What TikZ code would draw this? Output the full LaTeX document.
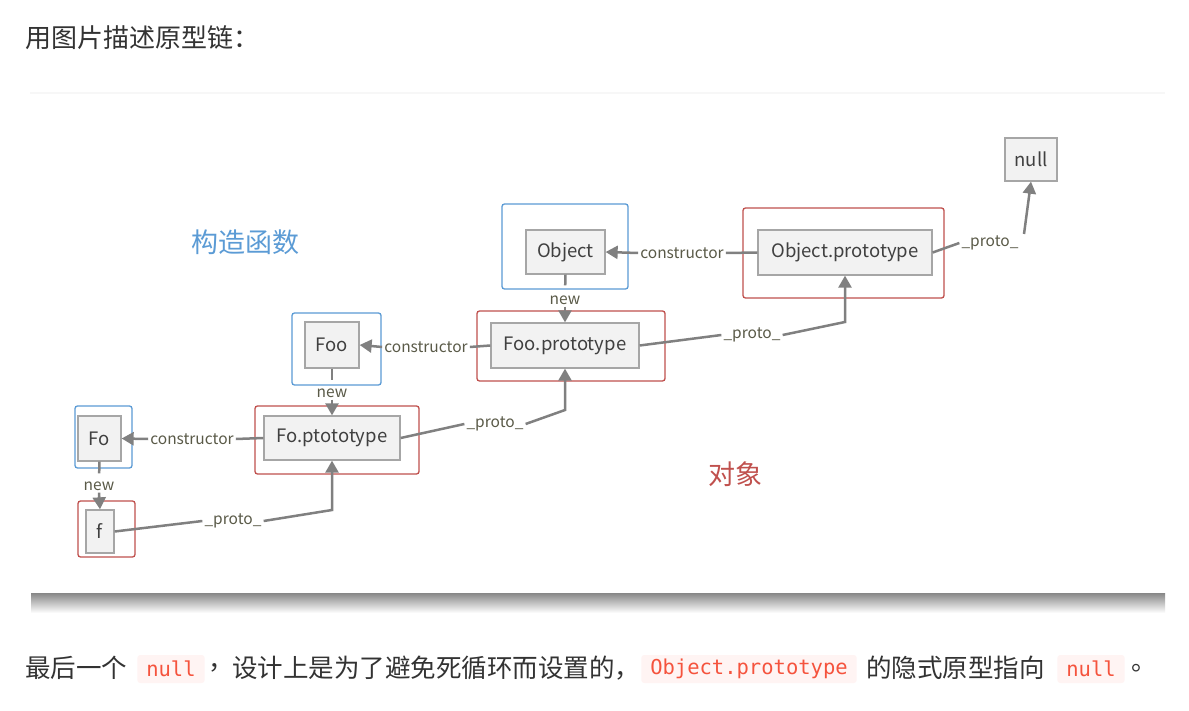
\documentclass[tikz,border=0pt]{standalone}
\usepackage{fontspec}
\setmainfont{Noto Sans CJK SC}
\newfontfamily\codefont{DejaVu Sans Mono}
\usetikzlibrary{arrows.meta}
\definecolor{bxblue}{HTML}{5B9BD5}
\definecolor{bxred}{HTML}{C0504D}
\definecolor{ln}{HTML}{808080}
\definecolor{innerf}{HTML}{F2F2F2}
\definecolor{innerb}{HTML}{A6A6A6}
\definecolor{lbl}{HTML}{5A5A48}
\definecolor{codered}{HTML}{F5533D}
\definecolor{codebg}{HTML}{FFF4F3}
\definecolor{txt}{HTML}{333333}
\definecolor{ttblue}{HTML}{5B9BD5}
\definecolor{ttred}{HTML}{C0504D}
\begin{document}
\begin{tikzpicture}[x=1pt,y=-1pt,
 inbox/.style={draw=innerb, fill=innerf, line width=1.3pt, inner sep=0pt, font=\fontsize{18.5}{20}\selectfont, text=black!75},
 bluebox/.style={draw=bxblue, line width=1.3pt, rounded corners=2.5pt, inner sep=0pt},
 redbox/.style={draw=bxred, line width=1.3pt, rounded corners=2.5pt, inner sep=0pt},
 lab/.style={font=\fontsize{15.5}{17}\selectfont, text=lbl, inner sep=2pt},
 conn/.style={draw=ln, line width=2.5pt},
 arr/.style={conn, -{Triangle[length=12pt,width=13pt]}},
 code/.style={fill=codebg, rounded corners=3pt, text=codered, font=\codefont\fontsize{20.5}{22}\selectfont, inner xsep=9pt, inner ysep=0pt, minimum height=28pt},
 para/.style={font=\fontsize{25.5}{28}\selectfont, text=txt, inner sep=0pt, anchor=west}
]
\useasboundingbox (0,0) rectangle (1189,711);
\fill[white] (0,0) rectangle (1189,711);
% panel top line and shadow
\draw[black!3, line width=1.5pt] (30,93) -- (1165,93);
\shade[top color=black!47, bottom color=white] (31,593) rectangle (1165,613);

% title
\node[para, font=\fontsize{26}{28}\selectfont] (title) at (25,38) {用图片描述原型链：};

% outer boxes
\node[bluebox, minimum width=126pt, minimum height=85pt] (objO) at (565,246.5) {};
\node[redbox, minimum width=201pt, minimum height=90pt] (objpO) at (843.5,253) {};
\node[bluebox, minimum width=89pt, minimum height=72pt] (fooO) at (336.5,349) {};
\node[redbox, minimum width=188pt, minimum height=70pt] (foopO) at (571,346) {};
\node[bluebox, minimum width=57pt, minimum height=62pt] (foO) at (103.5,437) {};
\node[redbox, minimum width=164pt, minimum height=68pt] (fopO) at (337,440) {};
\node[redbox, minimum width=57pt, minimum height=56pt] (fO) at (106.5,529) {};

% inner boxes
\node[inbox, minimum width=52pt, minimum height=43pt] (null) at (1031,159.5) {null};
\node[inbox, minimum width=79pt, minimum height=44pt] (obj) at (565.5,252) {Object};
\node[inbox, minimum width=174pt, minimum height=45pt] (objp) at (845,252.5) {Object.prototype};
\node[inbox, minimum width=54pt, minimum height=46pt] (foo) at (332,345) {Foo};
\node[inbox, minimum width=148pt, minimum height=45pt] (foop) at (565,345.5) {Foo.prototype};
\node[inbox, minimum width=43pt, minimum height=45pt] (fo) at (99.5,438.5) {Fo};
\node[inbox, minimum width=136pt, minimum height=44pt] (fop) at (332,438) {Fo.ptototype};
\node[inbox, minimum width=28pt, minimum height=43pt] (f) at (100,531.5) {f};

% group titles
\node[font=\fontsize{27}{30}\selectfont, text=ttblue] (ctorT) at (245,242) {构造函数};
\node[font=\fontsize{27}{30}\selectfont, text=ttred] (objT) at (735,474) {对象};

% constructor labels
\node[lab] (c1) at (682,253) {constructor};
\node[lab] (c2) at (426,347) {constructor};
\node[lab] (c3) at (192,439) {constructor};
\draw[conn] (objp.west) -- (c1.east);
\draw[arr] (c1.west) -- (obj.east);
\draw[conn] (foop.west) -- (c2.east);
\draw[arr] (c2.west) -- (foo.east);
\draw[conn] (fop.west) -- (c3.east);
\draw[arr] (c3.west) -- (fo.east);

% new labels
\node[lab] (n1) at (565,300) {new};
\node[lab] (n2) at (332,393) {new};
\node[lab] (n3) at (99,486) {new};
\draw[conn, shorten >=8pt] (obj.south) -- (n1.north);
\draw[arr] (n1.south) -- (foop.north);
\draw[conn, shorten >=6pt] (foo.south) -- (n2.north);
\draw[arr] (n2.south) -- (fop.north);
\draw[conn, shorten >=6pt] (fo.south) -- (n3.north);
\draw[arr] (n3.south) -- (f.north);

% proto labels
\node[lab] (p1) at (233,521) {\_proto\_};
\node[lab] (p2) at (495,424) {\_proto\_};
\node[lab] (p3) at (752,335) {\_proto\_};
\node[lab] (p4) at (990,243) {\_proto\_};
\coordinate (k1) at (332,510);
\coordinate (k2) at (565,410);
\coordinate (k3) at (845,322);
\coordinate (k4) at (1024,234);
\draw[conn] (f.east) -- (p1.west);
\draw[arr] (p1.east) -- (k1) -- (fop.south);
\draw[conn] (fop.east) -- (p2.west);
\draw[arr] (p2.east) -- (k2) -- (foop.south);
\draw[conn] (foop.east) -- (p3.west);
\draw[arr] (p3.east) -- (k3) -- (objp.south);
\draw[conn] (objp.east) -- (p4.west);
\draw[arr] (k4) -- (null.south);

% bottom paragraph
\node[para] (t1) at (25,668) {最后一个};
\node[code] (cd1) at (171,669) {null};
\node[para] (t2) at (208,668) {，};
\node[para] (t3) at (232,668) {设计上是为了避免死循环而设置的，};
\node[code] (cd2) at (749,669) {Object.prototype};
\node[para] (t4) at (866,668) {的隐式原型指向};
\node[code] (cd3) at (1091,669) {null};
\node[para] (t5) at (1131,668) {。};
\end{tikzpicture}
\end{document}
